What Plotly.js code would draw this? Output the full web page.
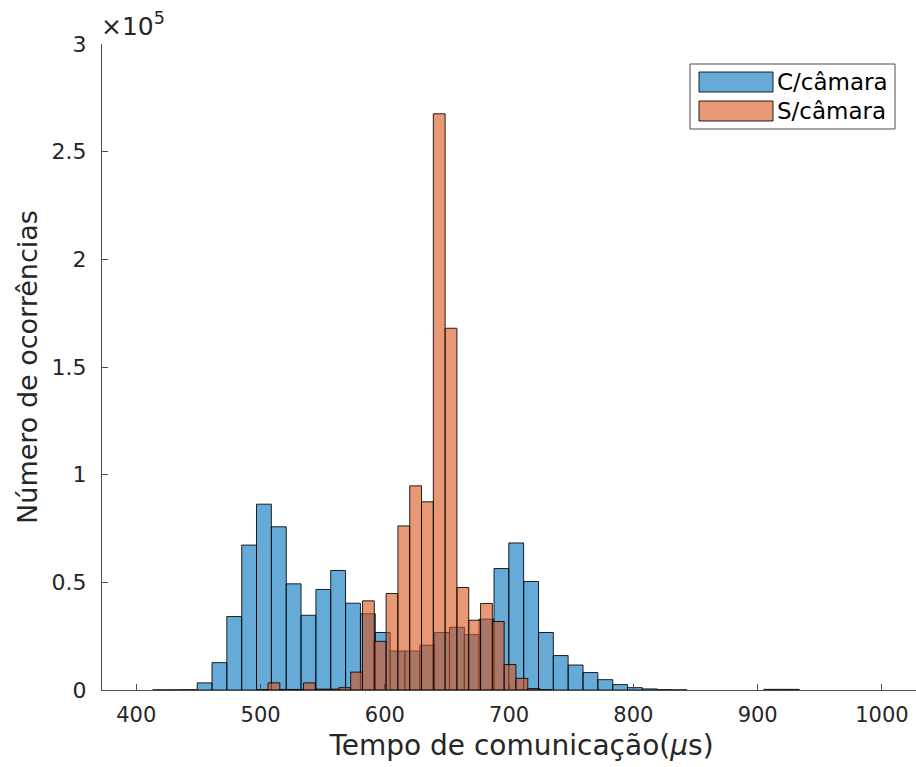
<!DOCTYPE html>
<html><head><meta charset="utf-8">
<script src="https://cdn.plot.ly/plotly-3.0.1.min.js"></script>
<style>html,body{margin:0;padding:0;overflow:hidden;background:#fff}#chart{width:941px;height:767px}</style>
</head><body><div id="chart"></div>
<script>
// Bin centres (µs) and counts
const blueName = 'C/câmara';
const blueWidth = 11.94;
const blueCenters = [419.2, 431.1, 443.0, 455.0, 466.9, 478.8, 490.8, 502.7, 514.7, 526.6, 538.5, 550.5, 562.4, 574.4,
  586.3, 598.3, 610.2, 622.1, 634.1, 646.0, 658.0, 669.9, 681.8, 693.8, 705.7, 717.7, 729.6, 741.5, 753.5, 765.4,
  777.4, 789.3, 801.2, 813.2, 825.1, 837.1];
const blueCounts = [60, 80, 150, 3300, 12700, 34100, 67300, 86300, 75800, 49300, 34700, 46700, 55500, 40300,
  35400, 26700, 18100, 18100, 20800, 26700, 29100, 25700, 32900, 56400, 68300, 50400, 26700, 16000, 11600, 8100,
  4800, 2500, 1100, 500, 150, 60];

const orangeName = 'S/câmara';
const orangeWidth = 9.5;
const orangeCenters = [501.25, 510.75, 520.25, 529.75, 539.25, 548.75, 558.25, 567.75, 577.25, 586.75, 596.25, 605.75,
  615.25, 624.75, 634.25, 643.75, 653.25, 662.75, 672.25, 681.75, 691.25, 700.75, 710.25, 719.75, 729.25,
  909.75, 919.25, 928.75];
const orangeCounts = [150, 3300, 250, 250, 3300, 400, 400, 1100, 8300, 41400, 22600, 44800,
  76200, 94800, 87400, 267600, 168000, 47600, 32400, 40200, 31800, 11800, 5400, 650, 100,
  300, 300, 300];

const xTickVals = [400, 500, 600, 700, 800, 900, 1000];
const yTickVals = [0, 50000, 100000, 150000, 200000, 250000, 300000];
const yTickText = ['0', '0.5', '1', '1.5', '2', '2.5', '3'];

const blueFill = 'rgba(0,114,189,0.6)';
const orangeFill = 'rgba(217,83,25,0.6)';
const edge = 'rgba(0,0,0,0.85)';
const axisCol = '#4d4d4d';
const textCol = '#262626';
const font = 'DejaVu Sans, sans-serif';

const traces = [
  {type: 'bar', name: blueName, x: blueCenters, y: blueCounts, width: blueWidth,
   marker: {color: blueFill, line: {color: edge, width: 1}}, showlegend: false},
  {type: 'bar', name: orangeName, x: orangeCenters, y: orangeCounts, width: orangeWidth,
   marker: {color: orangeFill, line: {color: edge, width: 1}}, showlegend: false}
];

// plot area: x 102..941 px, y 44..690 px
const W = 941, L = 102;
const px = v => (v - L) / (W - L);
const py = v => (690 - v) / (690 - 44);

const layout = {
  width: W, height: 767,
  margin: {l: L, r: 0, t: 44, b: 77, pad: 0},
  paper_bgcolor: '#fff', plot_bgcolor: '#fff',
  barmode: 'overlay', bargap: 0,
  font: {family: font, color: textCol},
  xaxis: {
    range: [372.4, 1047.5], tickvals: xTickVals, ticks: 'inside', ticklen: 6, tickcolor: axisCol,
    showline: true, linecolor: axisCol, linewidth: 1, showgrid: false, zeroline: false,
    tickfont: {size: 21, color: textCol, family: font}, ticklabelstandoff: 6,
    title: {text: 'Tempo de comunicação(<i>μ</i>s)', font: {size: 28, color: textCol, family: font}, standoff: 9}
  },
  yaxis: {
    range: [0, 300000], tickvals: yTickVals, ticktext: yTickText, ticks: 'inside', ticklen: 6, tickcolor: axisCol,
    showline: true, linecolor: axisCol, linewidth: 1, showgrid: false, zeroline: false,
    tickfont: {size: 22, color: textCol, family: font}, ticklabelstandoff: 10,
    title: {text: 'Número de ocorrências', font: {size: 27, color: textCol, family: font}, standoff: 6}
  },
  shapes: [
    {type: 'rect', xref: 'paper', yref: 'paper', x0: px(690), x1: px(895), y0: py(129), y1: py(64),
     line: {color: axisCol, width: 1}, fillcolor: '#fff', layer: 'above'},
    {type: 'rect', xref: 'paper', yref: 'paper', x0: px(699), x1: px(773), y0: py(92), y1: py(72),
     line: {color: edge, width: 1}, fillcolor: blueFill, layer: 'above'},
    {type: 'rect', xref: 'paper', yref: 'paper', x0: px(699), x1: px(773), y0: py(121), y1: py(101),
     line: {color: edge, width: 1}, fillcolor: orangeFill, layer: 'above'}
  ],
  annotations: [
    {xref: 'paper', yref: 'paper', x: px(775), y: py(82), xanchor: 'left', yanchor: 'middle', showarrow: false,
     text: blueName, font: {size: 23, color: '#000', family: font}},
    {xref: 'paper', yref: 'paper', x: px(775), y: py(111), xanchor: 'left', yanchor: 'middle', showarrow: false,
     text: orangeName, font: {size: 23, color: '#000', family: font}},
    {xref: 'paper', yref: 'paper', x: px(99), y: py(43), xanchor: 'left', yanchor: 'bottom', showarrow: false,
     text: '×10<sup>5</sup>', font: {size: 25, color: textCol, family: font}}
  ]
};

Plotly.newPlot('chart', traces, layout, {displayModeBar: false, staticPlot: true});
</script>
</body></html>
